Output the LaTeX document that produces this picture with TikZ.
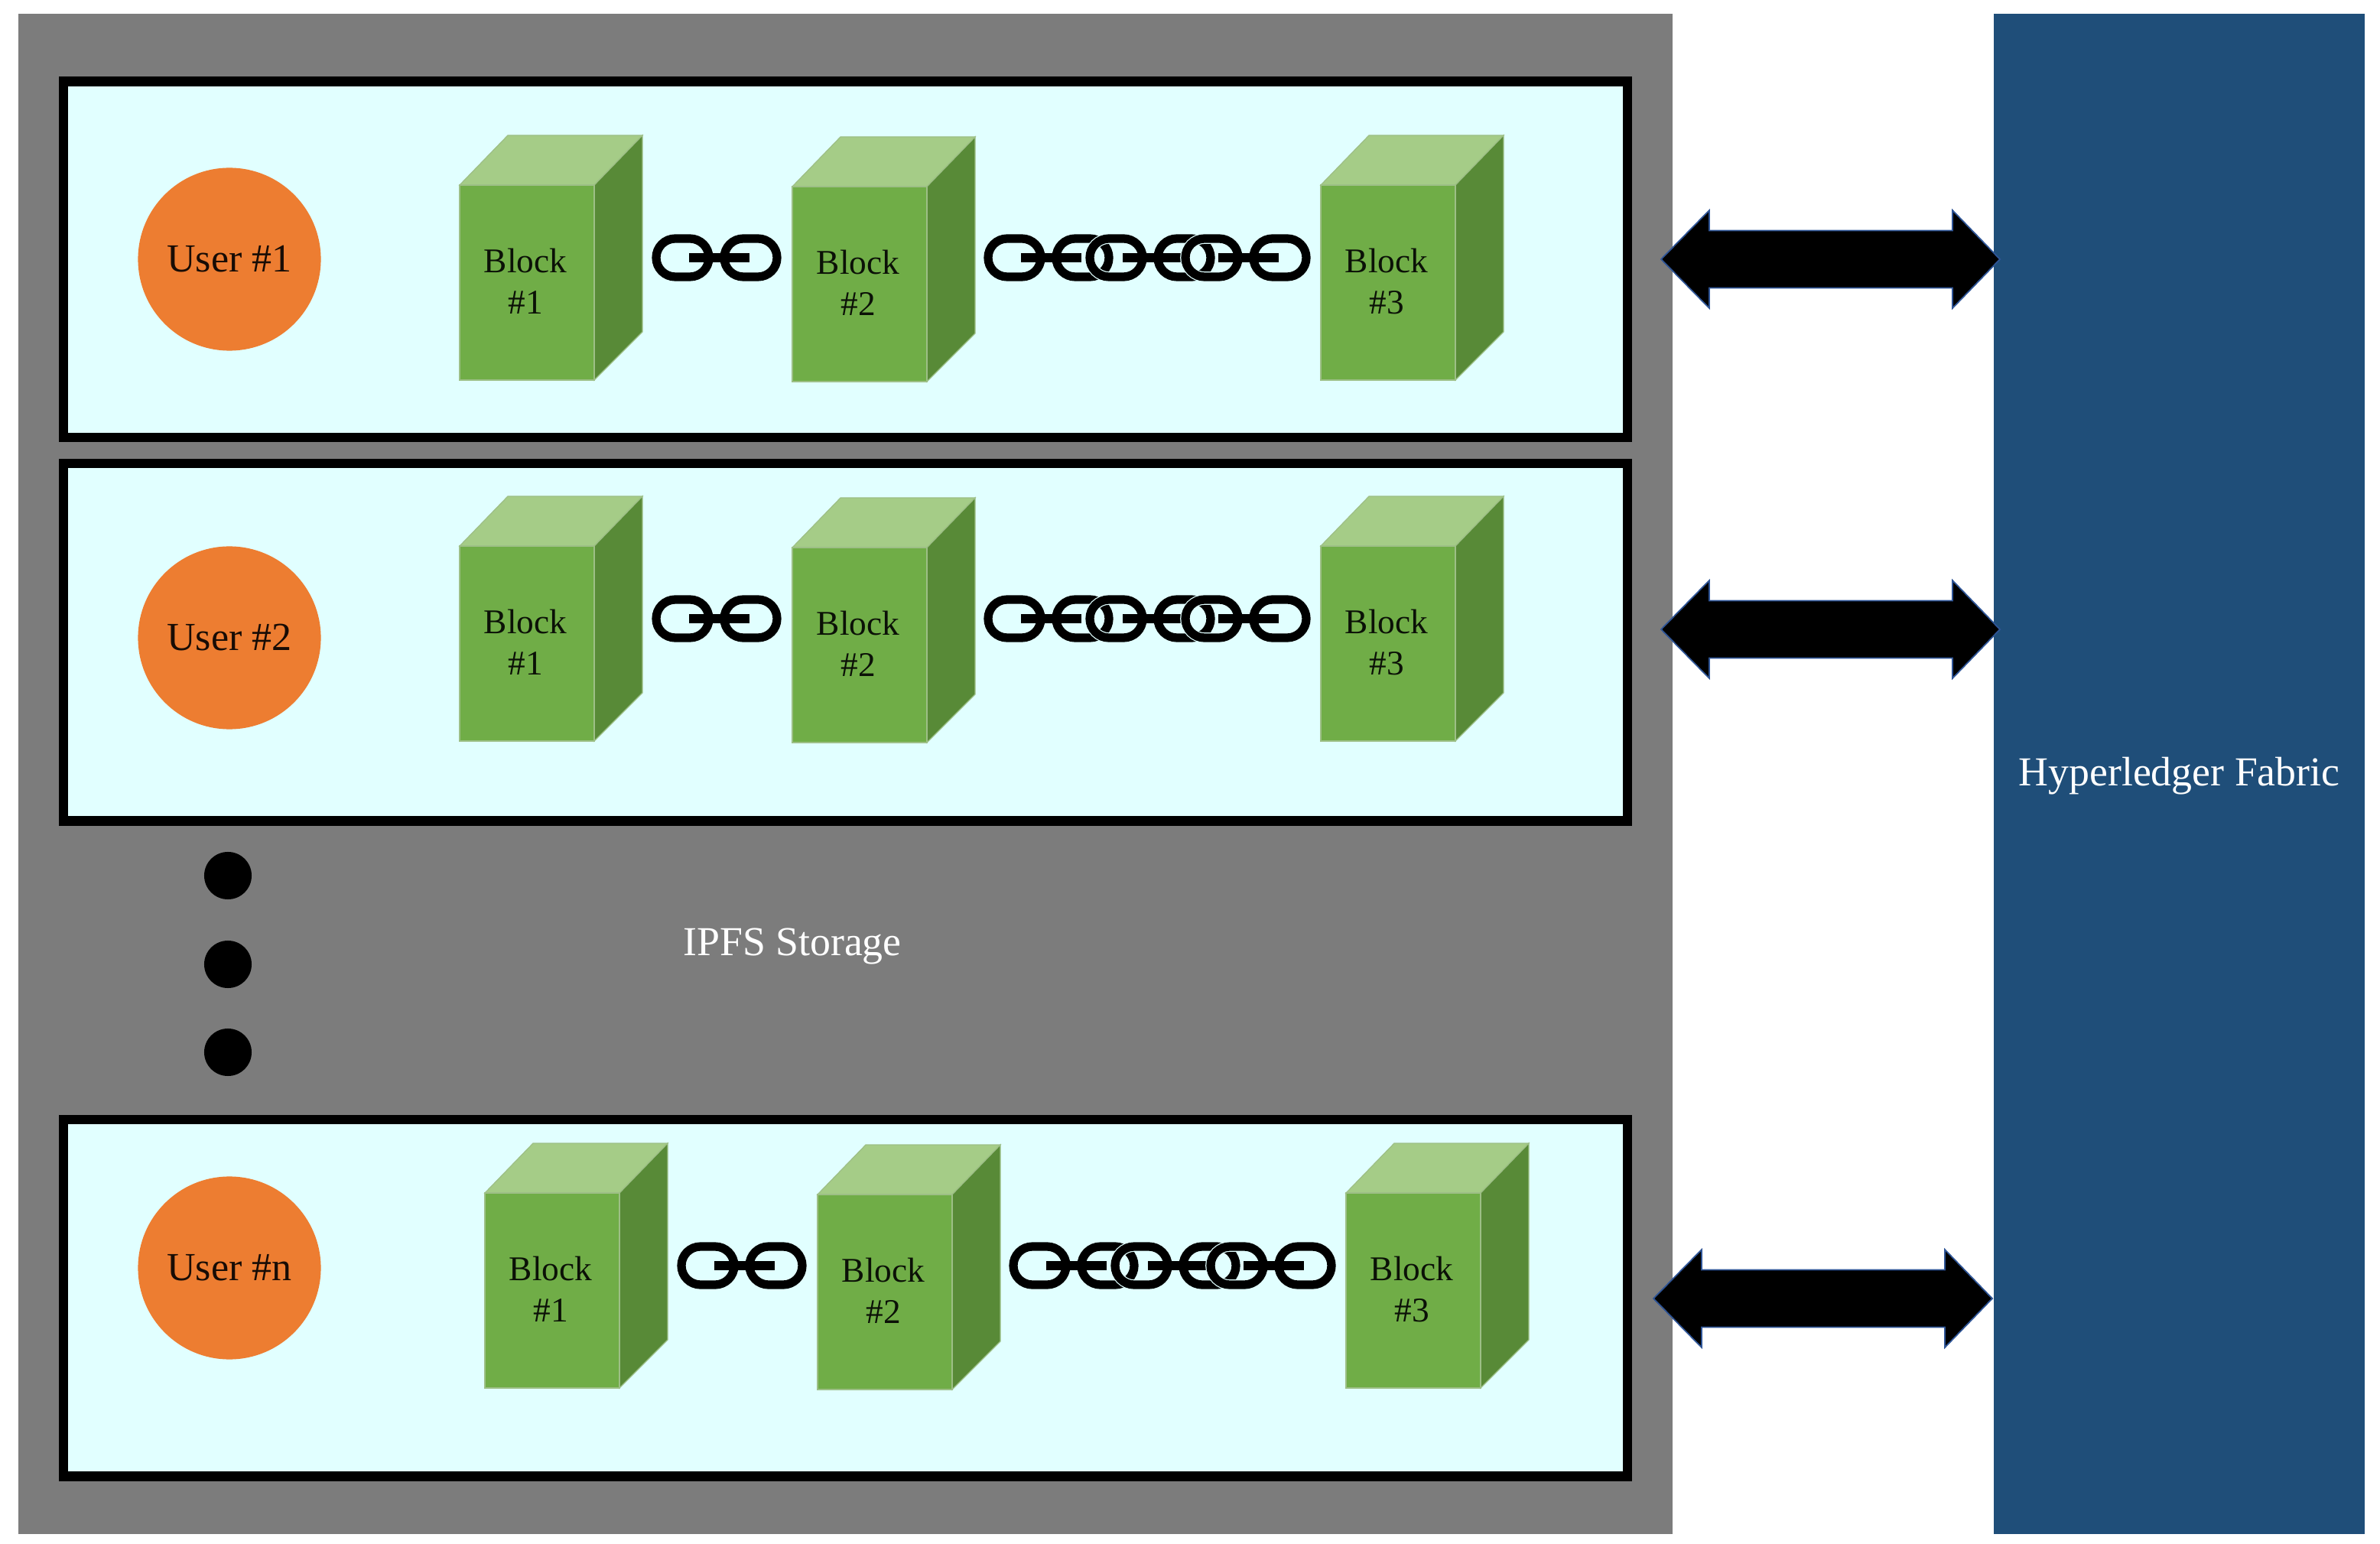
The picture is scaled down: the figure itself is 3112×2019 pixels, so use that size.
\documentclass[tikz,border=0pt]{standalone}
\usepackage{fontspec}
\setmainfont{Liberation Serif}
\usetikzlibrary{calc}
\definecolor{ipfsgray}{HTML}{7C7C7C}
\definecolor{panelcyan}{HTML}{E1FFFF}
\definecolor{fabricblue}{HTML}{1F4E79}
\definecolor{userorange}{HTML}{ED7D31}
\definecolor{cubefront}{HTML}{70AD47}
\definecolor{cubetop}{HTML}{A5CC87}
\definecolor{cubeside}{HTML}{588A37}
\definecolor{cubeedge}{HTML}{9DBF86}
\definecolor{arrowedge}{HTML}{2F5597}
\tikzset{
  panelbox/.style={draw=black,line width=3.6pt,fill=panelcyan},
  usernode/.style={circle,fill=userorange,minimum size=2.39cm,inner sep=0pt,font=\fontsize{14.8pt}{17pt}\selectfont,text=black!90!userorange},
  dotnode/.style={circle,fill=black,minimum size=0.62cm,inner sep=0pt},
  whitelabel/.style={text=white,font=\fontsize{15.3pt}{18pt}\selectfont,inner sep=0pt},
  bigarrow/.style={fill=black,draw=arrowedge,line width=0.5pt,line join=miter},
  linkline/.style={draw=black,line width=3.2pt},
  linkhalo/.style={draw=panelcyan,line width=3.9pt},
  pics/blockcube/.style={code={
    \path[fill=cubetop,draw=cubeedge,line width=0.35pt] (0,0) -- (63,-65) -- (239,-65) -- (176,0) -- cycle;
    \path[fill=cubeside,draw=cubeedge,line width=0.35pt] (176,0) -- (239,-65) -- (239,192) -- (176,255) -- cycle;
    \path[fill=cubefront,draw=cubeedge,line width=0.35pt] (0,0) rectangle (176,255);
    \node[inner sep=0pt,align=center,font=\fontsize{12.9pt}{15.4pt}\selectfont,text=black!90!cubefront] (-label) at (86,126) {Block\\\##1};
  }},
  pics/chainpair/.style={code={
    \foreach \st in {linkhalo,linkline}{
      \path[\st,rounded corners=7.1pt] (5,-25) rectangle (74,25);
      \path[\st,rounded corners=7.1pt] (94,-25) rectangle (163,25);
      \path[\st,line width=3.6pt] (48,0) -- (127,0);
    }
  }}
}
% #1 row, #2 box top, #3 box bottom, #4 x shift, #5 y shift of the contents
\newcommand{\panelrow}[5]{%
  \draw[panelbox] (83,#2) rectangle (2128,#3);
  \pic (c#1a) at ({853+#4},{337+#5}) {chainpair};
  \pic (c#1b) at ({1287+#4},{337+#5}) {chainpair};
  \pic (c#1c) at ({1420+#4},{337+#5}) {chainpair};
  \pic (c#1d) at ({1545+#4},{337+#5}) {chainpair};
  \pic (b#1x) at ({601+#4},{242+#5}) {blockcube=1};
  \pic (b#1y) at ({1036+#4},{244+#5}) {blockcube=2};
  \pic (b#1z) at ({1727+#4},{242+#5}) {blockcube=3};
}
\newcommand{\doublearrow}[2]{%
  \draw[bigarrow] (#1) -- ($(#1)+(63,-64)$) -- ($(#1)+(63,-37.5)$) -- ($(#2)+(-62,-37.5)$) -- ($(#2)+(-62,-64)$)
    -- (#2) -- ($(#2)+(-62,64)$) -- ($(#2)+(-62,37.5)$) -- ($(#1)+(63,37.5)$) -- ($(#1)+(63,64)$) -- cycle;
}
\begin{document}
\begin{tikzpicture}[x=0.01cm,y=-0.01cm]
\useasboundingbox (0,0) rectangle (3112,2019);
\fill[white] (0,0) rectangle (3112,2019);
\fill[ipfsgray] (24,18) rectangle (2187,2006);
\fill[fabricblue] (2607,18) rectangle (3092,2006);
\node[text=white,font=\fontsize{15.3pt}{18pt}\selectfont,inner sep=0pt] (fabric) at (2849.5,1015) {Hyperledger Fabric};

\panelrow{1}{106.5}{572}{0}{0}
\panelrow{2}{606}{1073.5}{0}{472}
\panelrow{3}{1464}{1930.5}{33}{1318}

\node[usernode] (user1) at (300,339) {User \#1};
\node[usernode] (user2) at (300,834) {User \#2};
\node[usernode] (usern) at (300,1658) {User \#n};

\node[dotnode] (dot1) at (298,1145) {};
\node[dotnode] (dot2) at (298,1261) {};
\node[dotnode] (dot3) at (298,1376) {};

\node[whitelabel] (ipfs) at (1036,1237) {IPFS Storage};

\coordinate (a1l) at (2172,339);  \coordinate (a1r) at (2615,339);
\coordinate (a2l) at (2172,823);  \coordinate (a2r) at (2615,823);
\coordinate (a3l) at (2162,1698); \coordinate (a3r) at (2605,1698);
\doublearrow{a1l}{a1r}
\doublearrow{a2l}{a2r}
\doublearrow{a3l}{a3r}
\end{tikzpicture}
\end{document}
